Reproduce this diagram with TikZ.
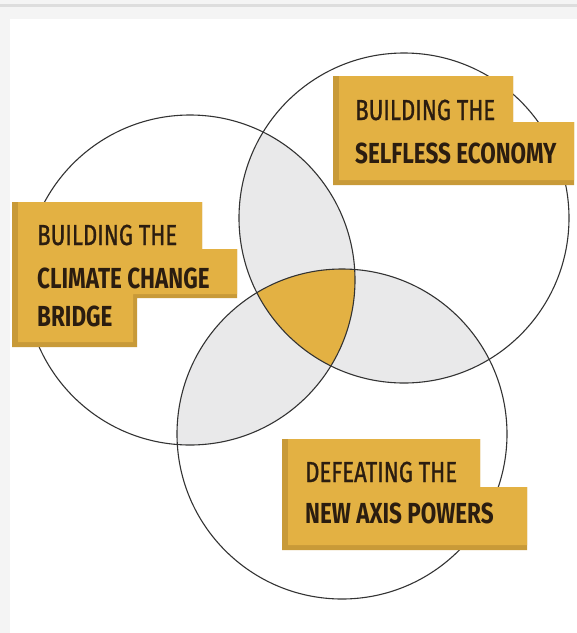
\documentclass[tikz,border=0pt]{standalone}
\usepackage{fontspec}
\newfontfamily\lblfont{Fira Sans}[FakeStretch=0.775]
\newfontfamily\lblfontmid{Fira Sans}[FakeStretch=0.765, FakeBold=0.9]
\definecolor{ochre}{HTML}{E3B143}
\definecolor{ochredark}{HTML}{C89A38}
\definecolor{lensgray}{HTML}{E9E9EA}
\definecolor{pagegray}{HTML}{F4F4F4}
\definecolor{rulegray}{HTML}{DDDDDD}
\definecolor{ink}{HTML}{2B1D10}
\definecolor{ringcol}{HTML}{333333}
\tikzset{
  ring/.style={draw=ringcol, line width=1.1pt},
  lbltext/.style={anchor=base west, inner sep=0pt, text=ink, font=\lblfont\fontsize{29}{35}\selectfont},
  lbltextmid/.style={anchor=base west, inner sep=0pt, text=ink, font=\lblfontmid\fontsize{29}{35}\selectfont},
  boxshadow/.style={fill=ochredark, draw=none},
  boxmain/.style={fill=ochre, draw=none}
}
\begin{document}
\begin{tikzpicture}[x=1pt,y=-1pt]
\useasboundingbox (0,0) rectangle (577,633);
% page background
\fill[pagegray] (0,0) rectangle (577,633);
\fill[rulegray] (0,3.5) rectangle (577,7);
\fill[white] (10,19) rectangle (577,633);
% circle centres
\coordinate (A) at (190,280);
\coordinate (B) at (404,218);
\coordinate (C) at (342,434);
\def\R{165}
% pairwise lenses
\begin{scope}\clip (A) circle (\R); \fill[lensgray] (B) circle (\R); \fill[lensgray] (C) circle (\R);\end{scope}
\begin{scope}\clip (B) circle (\R); \fill[lensgray] (C) circle (\R);\end{scope}
% triple intersection
\begin{scope}\clip (A) circle (\R); \clip (B) circle (\R); \fill[ochre] (C) circle (\R);\end{scope}
% rings
\draw[ring] (A) circle (\R);
\draw[ring] (B) circle (\R);
\draw[ring] (C) circle (\R);
% label 1 : selfless economy
\fill[boxshadow] (333,76) -- (513,76) -- (513,122) -- (574,122) -- (574,185) -- (333,185) -- cycle;
\fill[boxmain] (339,76) -- (513,76) -- (513,122) -- (574,122) -- (574,180) -- (339,180) -- cycle;
\node[lbltextmid] (econ1) at (355,120) {BUILDING THE};
\node[lbltext] (econ2) at (355,163) {\bfseries SELFLESS ECONOMY};
% label 2 : climate change bridge
\fill[boxshadow] (12,202) -- (202,202) -- (202,249) -- (237,249) -- (237,298) -- (137,298) -- (137,347) -- (12,347) -- cycle;
\fill[boxmain] (18,202) -- (202,202) -- (202,249) -- (237,249) -- (237,294) -- (133,294) -- (133,342) -- (18,342) -- cycle;
\node[lbltextmid] (clim1) at (37,245) {BUILDING THE};
\node[lbltext] (clim2) at (37,288) {\bfseries CLIMATE CHANGE};
\node[lbltext] (clim3) at (37,326) {\bfseries BRIDGE};
% label 3 : new axis powers
\fill[boxshadow] (282,439) -- (480,439) -- (480,487) -- (527,487) -- (527,550) -- (282,550) -- cycle;
\fill[boxmain] (288,439) -- (480,439) -- (480,487) -- (527,487) -- (527,545) -- (288,545) -- cycle;
\node[lbltextmid] (axis1) at (305,482) {DEFEATING THE};
\node[lbltext] (axis2) at (305,523) {\bfseries NEW AXIS POWERS};
\end{tikzpicture}
\end{document}
